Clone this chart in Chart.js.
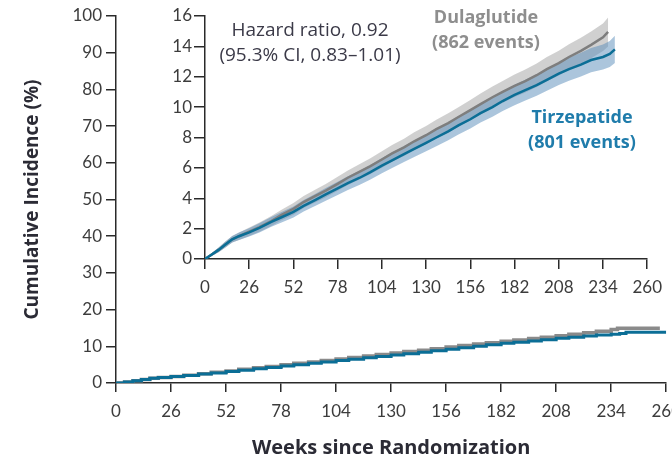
<!DOCTYPE html>
<html>
<head>
<meta charset="utf-8">
<script src="https://cdn.jsdelivr.net/npm/chart.js@4/dist/chart.umd.min.js"></script>
<style>
  html, body { margin: 0; padding: 0; background: #fff; width: 672px; height: 461px; overflow: hidden; }
  #wrap { position: relative; width: 672px; height: 461px; }
  canvas { position: absolute; top: 0; }
  .note { position: absolute; font-family: "Open Sans", Lato, sans-serif; font-size: 19px; line-height: 25px; text-align: center; white-space: nowrap; }
</style>
</head>
<body>
<div id="wrap">
  <canvas id="outer" width="690" height="461" style="left:0"></canvas>
  <canvas id="inset" width="520" height="300" style="left:150px"></canvas>
  <div class="note" style="left:160px; top:17px; width:300px; color:#3b3a48;">Hazard ratio, 0.92<br>(95.3% CI, 0.83&ndash;1.01)</div>
  <div class="note" style="left:416px; top:4px; width:140px; color:#8e8e8e; font-weight:700; font-size:18px;">Dulaglutide<br>(862 events)</div>
  <div class="note" style="left:512px; top:104px; width:140px; color:#1f7cab; font-weight:700; font-size:18px;">Tirzepatide<br>(801 events)</div>
</div>
<script>
// weeks since randomization (x values)
const weeks = [0, 4, 8, 12, 16, 20, 26, 32, 39, 45, 52, 58, 65, 71, 78, 84, 91, 97, 104, 110, 117, 123, 130, 136, 143, 149, 156, 162, 169, 175, 182, 188, 195, 201, 208, 214, 221, 227, 234];

// cumulative incidence (%)
const tirzepatide = [0, 0.3, 0.6, 0.95, 1.3, 1.5, 1.75, 2.05, 2.45, 2.75, 3.1, 3.5, 3.9, 4.25, 4.65, 5.0, 5.35, 5.7, 6.15, 6.5, 6.9, 7.25, 7.65, 8.0, 8.4, 8.8, 9.2, 9.6, 10.0, 10.4, 10.8, 11.1, 11.45, 11.8, 12.2, 12.5, 12.8, 13.1, 13.3];
const dulaglutide = [0, 0.3, 0.6, 0.95, 1.3, 1.5, 1.8, 2.1, 2.5, 2.9, 3.3, 3.75, 4.15, 4.5, 4.95, 5.35, 5.75, 6.1, 6.55, 6.95, 7.35, 7.75, 8.15, 8.55, 8.95, 9.35, 9.8, 10.2, 10.65, 11.0, 11.4, 11.7, 12.1, 12.5, 12.9, 13.3, 13.7, 14.1, 14.6];

// last points of each curve (inset ends earlier than the full-scale plot)
const tirzTail = [[238, 13.5], [241, 13.8]];
const dulaTail = [[237, 14.95]];
const tirzEnd = [260, 13.8];
const dulaEnd = [257, 14.95];

// half-width of the 95% confidence bands
const tirzCI = [0, 0.1, 0.15, 0.2, 0.22, 0.25, 0.27, 0.3, 0.32, 0.34, 0.36, 0.38, 0.4, 0.42, 0.44, 0.45, 0.46, 0.48, 0.5, 0.51, 0.52, 0.54, 0.55, 0.57, 0.58, 0.6, 0.61, 0.62, 0.64, 0.65, 0.67, 0.68, 0.7, 0.72, 0.74, 0.76, 0.78, 0.8, 0.82];
const dulaCI = [0, 0.1, 0.15, 0.2, 0.22, 0.25, 0.28, 0.3, 0.33, 0.35, 0.38, 0.4, 0.42, 0.44, 0.46, 0.48, 0.5, 0.52, 0.54, 0.55, 0.57, 0.59, 0.6, 0.62, 0.64, 0.65, 0.67, 0.69, 0.7, 0.72, 0.74, 0.76, 0.78, 0.8, 0.82, 0.84, 0.86, 0.88, 0.9];
const tirzTailCI = [0.85, 0.9];
const dulaTailCI = [0.95];

const xTicks = [0, 26, 52, 78, 104, 130, 156, 182, 208, 234, 260];

const axisColor = '#2a2a2a';
const tickColor = '#3c3c3c';
const fontFamily = 'Lato, "Open Sans", sans-serif';
const titleFamily = '"Open Sans", Lato, sans-serif';

function pts(xs, ys) {
  return xs.map((x, i) => ({ x: x, y: ys[i] }));
}

const tirzX = weeks.concat(tirzTail.map(p => p[0]));
const tirzY = tirzepatide.concat(tirzTail.map(p => p[1]));
const tirzW = tirzCI.concat(tirzTailCI);
const dulaX = weeks.concat(dulaTail.map(p => p[0]));
const dulaY = dulaglutide.concat(dulaTail.map(p => p[1]));
const dulaW = dulaCI.concat(dulaTailCI);

function axisStyle(tickLen, pad, size) {
  return {
    grid: { drawOnChartArea: false, drawTicks: true, tickLength: tickLen, color: axisColor, lineWidth: 1.5 },
    border: { display: true, color: axisColor, width: 1.5 },
    ticks: { color: tickColor, padding: pad, font: { family: fontFamily, size: size } }
  };
}

// ---- full-scale plot (0-100%) ----
const outerX = axisStyle(9, 9, 17);
outerX.type = 'linear';
outerX.min = 0; outerX.max = 260;
outerX.afterBuildTicks = s => { s.ticks = xTicks.map(v => ({ value: v })); };
outerX.afterFit = s => { s.height = 78; };
outerX.title = { display: true, text: 'Weeks since Randomization', color: '#2b2b35',
  font: { family: titleFamily, size: 20, weight: 'bold' }, padding: { top: 0, bottom: 1 } };

const outerY = axisStyle(10, 4, 17);
outerY.min = 0; outerY.max = 100;
outerY.ticks.stepSize = 10;
outerY.afterFit = s => { s.width = 116; };
outerY.title = { display: true, text: 'Cumulative Incidence (%)', color: '#2b2b35',
  font: { family: titleFamily, size: 19, weight: 'bold' }, padding: 21 };

new Chart(document.getElementById('outer'), {
  type: 'line',
  data: {
    datasets: [
      { data: pts(tirzX.concat([tirzEnd[0]]), tirzY.concat([tirzEnd[1]])), borderColor: '#0b6e96', borderWidth: 3, stepped: true, pointRadius: 0, order: 0 },
      { data: pts(dulaX.concat([dulaEnd[0]]), dulaY.concat([dulaEnd[1]])), borderColor: '#8a8a8a', borderWidth: 3.5, stepped: true, pointRadius: 0, order: 1 }
    ]
  },
  options: {
    responsive: false, animation: false,
    layout: { padding: { top: 16, right: 23, left: 0, bottom: 0 } },
    plugins: { legend: { display: false }, tooltip: { enabled: false } },
    scales: { x: outerX, y: outerY }
  }
});

// ---- inset (0-16%) ----
const inX = axisStyle(10, 8, 17);
inX.type = 'linear';
inX.min = 0; inX.max = 260;
inX.afterBuildTicks = s => { s.ticks = xTicks.map(v => ({ value: v })); };
inX.afterFit = s => { s.height = 41; };

const inY = axisStyle(11, 2, 17);
inY.min = 0; inY.max = 16;
inY.ticks.stepSize = 2;
inY.afterFit = s => { s.width = 55; };

new Chart(document.getElementById('inset'), {
  type: 'line',
  data: {
    datasets: [
      { data: pts(tirzX, tirzY), borderColor: '#0b6e96', borderWidth: 2.5, pointRadius: 0, order: 0 },
      { data: pts(dulaX, dulaY), borderColor: '#7e7e7e', borderWidth: 2.5, pointRadius: 0, order: 1 },
      { data: pts(tirzX, tirzY.map((v, i) => v + tirzW[i])), borderWidth: 0, pointRadius: 0, fill: '+1', backgroundColor: 'rgba(88,140,185,0.5)', order: 2 },
      { data: pts(tirzX, tirzY.map((v, i) => v - tirzW[i])), borderWidth: 0, pointRadius: 0, fill: false, order: 2 },
      { data: pts(dulaX, dulaY.map((v, i) => v + dulaW[i])), borderWidth: 0, pointRadius: 0, fill: '+1', backgroundColor: 'rgba(200,200,200,0.85)', order: 3 },
      { data: pts(dulaX, dulaY.map((v, i) => v - dulaW[i])), borderWidth: 0, pointRadius: 0, fill: false, order: 3 }
    ]
  },
  options: {
    responsive: false, animation: false,
    layout: { padding: { top: 16, right: 17, left: 0, bottom: 0 } },
    plugins: { legend: { display: false }, tooltip: { enabled: false } },
    scales: { x: inX, y: inY }
  }
});
</script>
</body>
</html>
